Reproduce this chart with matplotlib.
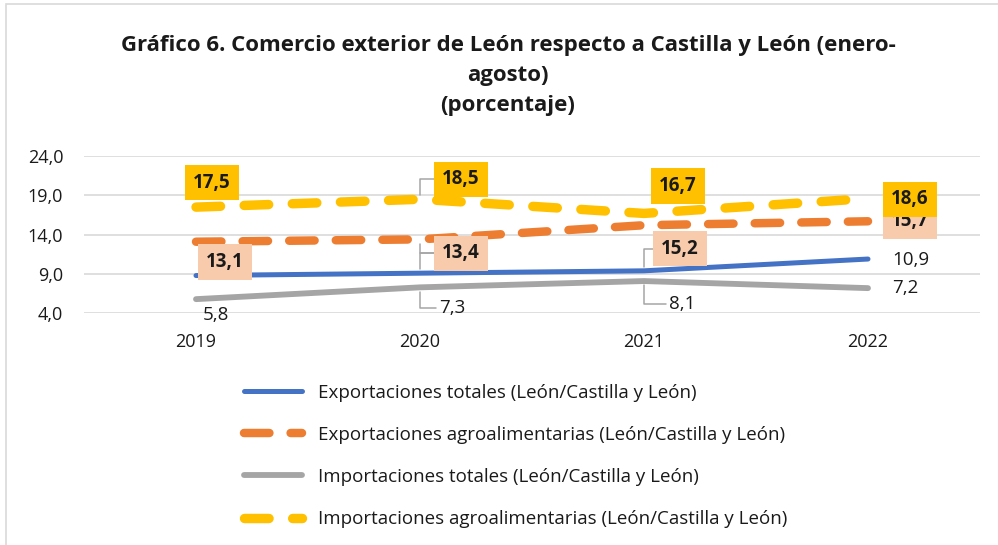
import matplotlib
matplotlib.use("Agg")
import matplotlib.pyplot as plt
from matplotlib.patches import Rectangle
from matplotlib.lines import Line2D

plt.rcParams['font.family'] = ['Open Sans', 'DejaVu Sans']

years = ["2019", "2020", "2021", "2022"]
exp_tot = [8.8, 9.1, 9.4, 10.9]
exp_agro = [13.1, 13.4, 15.2, 15.7]
imp_tot = [5.8, 7.3, 8.1, 7.2]
imp_agro = [17.5, 18.5, 16.7, 18.6]
yticks = [4.0, 9.0, 14.0, 19.0, 24.0]

names = ["Exportaciones totales (León/Castilla y León)",
         "Exportaciones agroalimentarias (León/Castilla y León)",
         "Importaciones totales (León/Castilla y León)",
         "Importaciones agroalimentarias (León/Castilla y León)"]

W, H = 998, 545
fig = plt.figure(figsize=(W/100, H/100), dpi=100)
fig.patches.append(Rectangle((6/W, -0.05), 1.1, 1 - 4/H + 0.05, transform=fig.transFigure,
                             fill=False, edgecolor='#D9D9D9', linewidth=1.2))
ax = fig.add_axes([84/W, 1 - 313.3/H, (980-84)/W, (313.3-156)/H])
x = list(range(len(years)))

c_blue = '#4472C4'
c_orange = '#ED7D31'
c_gray = '#A5A5A5'
c_yellow = '#FFC000'
c_lorange = '#F8CBAD'

st_blue = dict(color=c_blue, lw=3.6, solid_capstyle='round')
st_orange = dict(color=c_orange, lw=6.1, dash_capstyle='round', dashes=(3.0, 2.5))
st_gray = dict(color=c_gray, lw=4.2, solid_capstyle='round')
st_yellow = dict(color=c_yellow, lw=6.8, dash_capstyle='round', dashes=(2.6, 2.5))

ax.plot(x, exp_tot, zorder=3, **st_blue)
ax.plot(x, exp_agro, zorder=3, **st_orange)
ax.plot(x, imp_tot, zorder=3, **st_gray)
ax.plot(x, imp_agro, zorder=3, **st_yellow)

ax.set_xlim(-0.5, 3.5)
ax.set_ylim(4, 24)
ax.set_yticks(yticks)
ax.set_yticklabels([f"{v:.1f}".replace('.', ',') for v in yticks])
ax.set_xticks(x)
ax.set_xticklabels(years)
ax.tick_params(length=0, labelsize=13, colors='#1a1a1a')
ax.tick_params(axis='y', pad=15)
ax.tick_params(axis='x', pad=14)
ax.grid(axis='y', color='#D9D9D9', lw=1.2)
ax.set_axisbelow(True)
for s in ax.spines.values():
    s.set_visible(False)

k = 0.72  # px -> pt
FS = 13.5


def fmt(v):
    return f"{v:.1f}".replace('.', ',')


def label(i, v, dx, dy, box=None, leader=False, bold=False, ha='center', z=5):
    bbox = None
    if box:
        bbox = dict(boxstyle='square,pad=0.42', fc=box, ec='none')
    arrow = None
    if leader:
        arrow = dict(arrowstyle='-', color='#A5A5A5', lw=1.1,
                     connectionstyle='angle,angleA=0,angleB=90,rad=0',
                     shrinkA=0, shrinkB=3)
    ax.annotate(fmt(v), xy=(i, v), xytext=(dx*k, dy*k), textcoords='offset points',
                ha=ha, va='center', fontsize=FS,
                fontweight='bold' if bold else 'normal', color='#1a1a1a',
                bbox=bbox, arrowprops=arrow, zorder=z, annotation_clip=False)


def leader_only(i, v, dx, dy):
    ax.annotate('', xy=(i, v), xytext=(dx*k, dy*k), textcoords='offset points',
                arrowprops=dict(arrowstyle='-', color='#A5A5A5', lw=1.1,
                                connectionstyle='angle,angleA=0,angleB=90,rad=0',
                                shrinkA=0, shrinkB=3),
                zorder=2, annotation_clip=False)


# importaciones agroalimentarias (yellow)
label(0, imp_agro[0], 16, 24.6, box=c_yellow, bold=True)
label(1, imp_agro[1], 41, 19.8, box=c_yellow, bold=True, leader=True)
label(2, imp_agro[2], 34, 27.4, box=c_yellow, bold=True)
label(3, imp_agro[3], 42, -1, box=c_yellow, bold=True, z=7)
# exportaciones agroalimentarias (light orange)
label(0, exp_agro[0], 29, -20.3, box=c_lorange, bold=True)
label(1, exp_agro[1], 41, -14.1, box=c_lorange, bold=True, leader=True)
leader_only(1, exp_tot[1], 14, 19.8)
label(2, exp_agro[2], 36, -23.3, box=c_lorange, bold=True)
leader_only(2, exp_tot[2], 9, 22.3)
label(3, exp_agro[3], 42, 0, box=c_lorange, bold=True, z=6)
# exportaciones totales
label(3, exp_tot[3], 24, -1, ha='left')
# importaciones totales
label(0, imp_tot[0], 20, -16)
label(1, imp_tot[1], 32, -20.7, leader=True)
label(2, imp_tot[2], 38, -23, leader=True)
label(3, imp_tot[3], 24, 0, ha='left')

tx = 508 / W
for txt, yy in [("Gráfico 6. Comercio exterior de León respecto a Castilla y León (enero-", 45),
                ("agosto)", 75), ("(porcentaje)", 105)]:
    fig.text(tx, 1 - yy/H, txt, ha='center', va='center', fontsize=16,
             fontweight='bold', color='#1a1a1a')

# legend
handles = [Line2D([], [], **st_blue), Line2D([], [], **st_orange),
           Line2D([], [], **st_gray), Line2D([], [], **st_yellow)]
leg = fig.legend(handles, names, loc='upper left', bbox_to_anchor=(236/W, 1 - 376/H),
                 frameon=False, fontsize=13.5, handlelength=3.1, handletextpad=0.9,
                 labelspacing=1.29, borderaxespad=0)
for t in leg.get_texts():
    t.set_color('#1a1a1a')

fig.savefig("out.png", dpi=100)
